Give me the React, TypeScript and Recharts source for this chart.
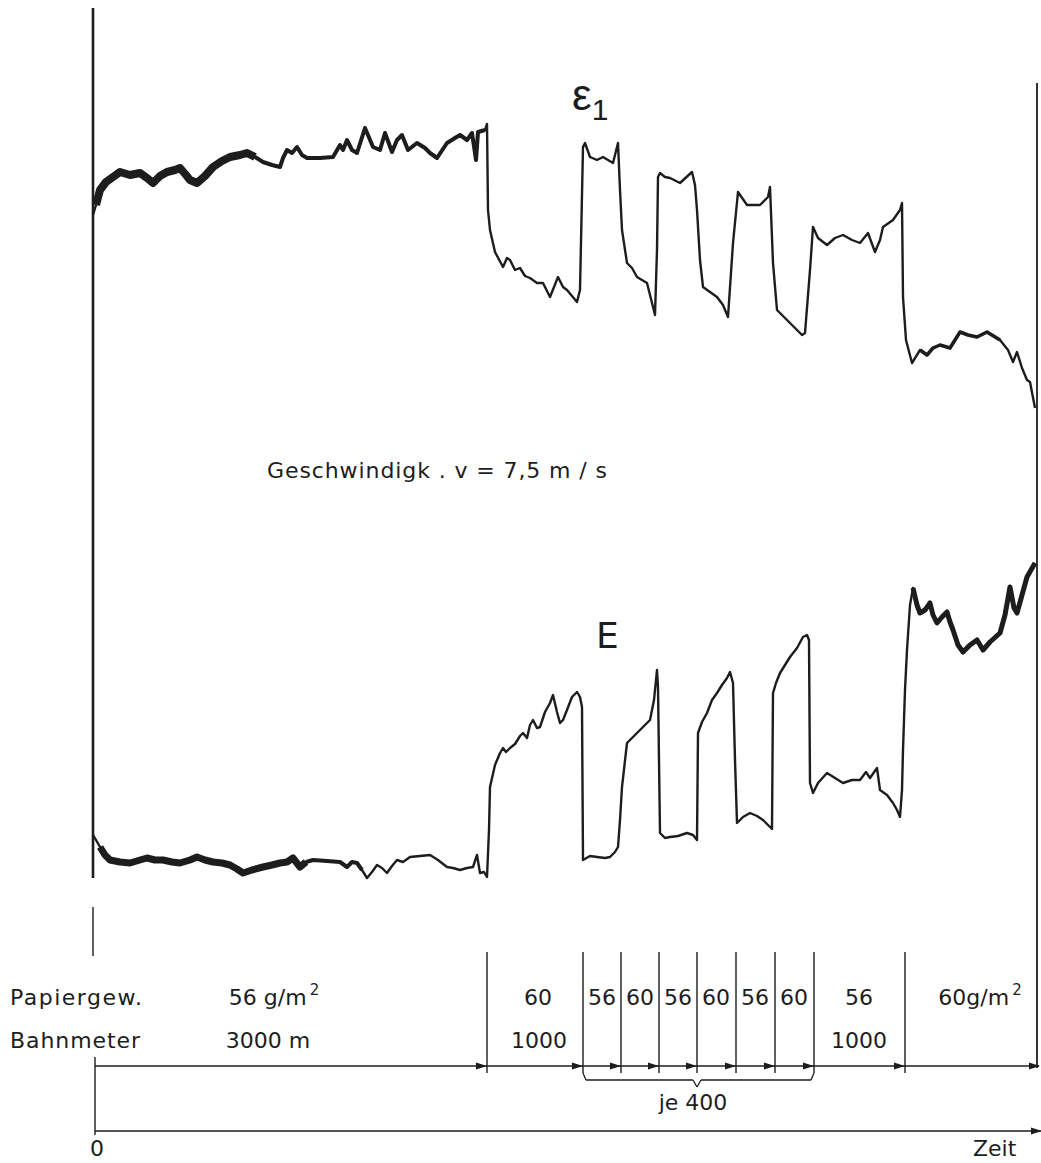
import { ComposedChart, Line, XAxis, YAxis, ReferenceLine, ReferenceDot } from "recharts";

// Schreiberstreifen: Zeit (cm Papiervorschub) gegen Ausschlag (cm)
const eps1Trace: [number, number][] = [
  [0, 66.5], [0.3, 67.5], [0.7, 69.0], [1.3, 69.8], [2.0, 70.3], [2.7, 70.8], [3.7, 70.5], [4.7, 70.7],
  [5.4, 70.2], [6.0, 69.7], [6.7, 70.4], [7.4, 70.8], [8.2, 71.0], [8.7, 71.2], [9.3, 70.5], [9.7, 70.0],
  [10.4, 69.7], [11.2, 70.4], [12.0, 71.3], [12.9, 71.9], [13.7, 72.3], [14.7, 72.5], [15.4, 72.7], [16.2, 72.3],
  [17.0, 71.8], [17.9, 71.5], [18.7, 71.3], [19.0, 72.2], [19.4, 73.0], [19.9, 72.7], [20.4, 73.3], [20.9, 72.5],
  [21.4, 72.2], [22.7, 72.2], [24.0, 72.3], [24.7, 73.5], [25.0, 73.0], [25.4, 74.0], [25.9, 73.0], [26.4, 72.7],
  [27.2, 75.2], [28.0, 73.3], [28.7, 73.0], [29.2, 74.7], [29.9, 72.8], [30.4, 74.0], [30.9, 74.5], [31.5, 73.0],
  [32.4, 73.7], [33.2, 73.2], [33.7, 72.7], [34.4, 72.2], [35.4, 73.7], [36.2, 74.2], [36.7, 74.5], [37.4, 74.0],
  [37.9, 74.7], [38.3, 72.0], [38.5, 74.8], [39.2, 75.0], [39.4, 75.6],
  [39.5, 67.0], [39.7, 65.0], [40.2, 62.8], [41.0, 61.3], [41.4, 62.2], [41.7, 62.0], [42.2, 61.0], [42.7, 61.2],
  [43.2, 60.4], [43.7, 60.2], [44.4, 59.7], [45.0, 59.7], [45.7, 58.3], [46.5, 60.3], [47.0, 59.3], [47.4, 59.0],
  [47.9, 58.4], [48.4, 57.8], [48.7, 59.0],
  [49.0, 73.3], [49.2, 73.7], [49.7, 72.3], [50.4, 72.0], [51.0, 72.3], [51.5, 72.0], [52.0, 71.7], [52.5, 73.7],
  [52.7, 69.0], [52.9, 65.0], [53.4, 61.7], [53.9, 61.2], [54.4, 60.3], [55.4, 59.7], [55.9, 57.7], [56.2, 56.5],
  [56.4, 63.0], [56.5, 70.3], [56.7, 70.7], [57.2, 70.3], [57.7, 70.2], [58.7, 69.7], [59.9, 70.8], [60.2, 69.5],
  [60.4, 67.0], [60.7, 62.0], [61.0, 59.3], [61.7, 58.8], [62.4, 58.3], [63.0, 57.5], [63.5, 56.3],
  [64.0, 63.7], [64.5, 68.8], [65.4, 67.5], [66.7, 67.5], [67.5, 68.3], [67.7, 69.3],
  [68.0, 61.7], [68.4, 57.0], [69.4, 56.0], [70.2, 55.2], [70.9, 54.5], [71.2, 54.7],
  [71.7, 61.0], [72.0, 65.3], [72.5, 64.2], [73.4, 63.5], [74.2, 64.2], [75.0, 64.5], [75.9, 64.0], [76.7, 63.7],
  [77.5, 64.7], [78.2, 62.8], [78.7, 64.0], [79.0, 65.3], [80.0, 66.0], [80.7, 67.0], [80.9, 67.7],
  [81.0, 58.3], [81.3, 54.0], [81.9, 51.7], [82.7, 53.0], [83.4, 52.5], [84.0, 53.2], [84.7, 53.5], [85.7, 53.2],
  [86.7, 54.8], [87.5, 54.5], [88.4, 54.3], [89.4, 54.8], [90.7, 54.0], [91.5, 53.0], [92.0, 51.8], [92.4, 52.8],
  [92.9, 51.2], [93.4, 50.0], [93.7, 49.8], [94.2, 47.2],
];

const eTrace: [number, number][] = [
  [0, 4.5], [0.3, 4.0], [0.7, 3.3], [1.2, 2.5], [1.7, 2.0], [2.7, 1.8], [3.7, 1.7], [4.7, 2.0],
  [5.4, 2.2], [6.2, 2.0], [7.0, 2.0], [7.9, 1.8], [8.7, 1.7], [9.7, 2.0], [10.4, 2.3], [11.2, 2.0],
  [12.0, 1.8], [12.9, 1.7], [13.7, 1.5], [14.4, 1.1], [15.0, 0.7], [15.9, 1.0], [17.0, 1.3], [17.9, 1.5],
  [18.7, 1.7], [19.4, 1.8], [20.0, 2.2], [20.7, 1.3], [21.3, 1.8], [22.0, 2.0], [23.4, 1.9], [24.7, 1.8],
  [25.4, 1.3], [25.9, 1.8], [26.4, 1.7], [26.9, 1.0], [27.4, 0.2], [27.9, 0.8], [28.4, 1.5], [28.9, 1.2],
  [29.4, 0.7], [29.9, 1.4], [30.4, 2.0], [31.0, 1.8], [31.7, 2.3], [32.7, 2.4], [33.7, 2.5], [34.5, 2.0],
  [35.4, 1.3], [36.0, 1.2], [36.7, 1.0], [37.4, 1.2], [38.0, 1.3], [38.4, 2.5], [38.7, 0.7], [39.1, 0.8],
  [39.4, 0.3],
  [39.6, 5.0], [39.7, 9.3], [40.2, 11.5], [40.7, 12.7], [41.0, 13.2], [41.3, 12.8], [41.7, 13.2], [42.2, 13.6],
  [42.7, 14.4], [43.0, 14.7], [43.4, 14.2], [43.7, 15.5], [44.0, 16.0], [44.4, 15.2], [44.7, 15.3], [45.2, 16.8],
  [45.7, 17.7], [46.0, 18.5], [46.4, 16.8], [46.7, 15.7], [47.0, 16.0], [47.4, 17.0], [47.9, 18.3], [48.4, 18.8],
  [48.7, 18.3], [48.9, 17.3],
  [49.0, 2.0], [49.7, 2.4], [50.4, 2.3], [51.2, 2.2], [51.7, 2.3], [52.2, 2.8], [52.5, 3.3],
  [52.7, 6.0], [52.9, 9.3], [53.4, 13.7], [53.9, 14.2], [54.4, 14.7], [55.0, 15.3], [55.7, 16.0], [56.1, 18.0],
  [56.4, 21.0], [56.5, 19.3],
  [56.6, 12.0], [56.7, 4.7], [57.2, 4.2], [57.7, 4.3], [58.5, 4.4], [59.4, 4.7], [60.0, 4.5], [60.4, 4.0],
  [60.5, 14.7], [60.9, 15.8], [61.4, 16.7], [61.9, 18.0], [62.4, 18.7], [62.9, 19.5], [63.4, 20.2], [63.7, 20.8],
  [64.0, 19.7],
  [64.2, 12.0], [64.4, 5.7], [65.0, 6.3], [65.7, 6.7], [66.4, 6.4], [67.0, 6.0], [67.5, 5.5], [67.9, 5.1],
  [68.0, 18.7], [68.3, 19.7], [68.7, 20.7], [69.2, 21.5], [69.7, 22.3], [70.4, 23.2], [71.0, 24.3], [71.4, 24.5],
  [71.6, 24.0],
  [71.7, 9.7], [72.0, 8.7], [72.5, 9.7], [73.4, 10.7], [74.2, 10.2], [75.0, 9.7], [75.9, 10.0], [76.7, 10.0],
  [77.3, 10.8], [77.7, 10.2], [78.4, 11.2], [78.7, 9.0], [79.4, 8.5], [80.0, 7.7], [80.4, 7.0], [80.7, 6.3],
  [80.9, 9.0], [81.0, 13.0], [81.2, 19.0], [81.4, 23.0], [81.7, 27.5], [82.0, 29.2], [82.4, 27.5], [82.7, 26.7],
  [83.2, 27.0], [83.7, 27.7], [84.0, 26.5], [84.4, 25.7], [84.9, 26.3], [85.4, 26.8], [85.7, 25.8], [86.0, 25.0],
  [86.5, 23.5], [87.0, 22.8], [87.7, 23.5], [88.4, 24.0], [89.0, 23.0], [89.7, 23.8], [90.7, 24.7], [91.2, 26.5],
  [91.7, 29.3], [92.1, 27.2], [92.4, 26.7], [92.9, 28.5], [93.4, 30.3], [93.8, 31.0], [94.2, 31.7],
];

// Abschnitte der Papierbahn (Grenzen auf der Zeitachse)
const segmentBounds = [39.4, 49.0, 52.8, 56.6, 60.4, 64.3, 68.2, 72.1, 81.2];
const timeEnd = 94.4;
const weightLabels = ["56 g/m", "60", "56", "60", "56", "60", "56", "60", "56", "60g/m"];
const weightHasUnit = [true, false, false, false, false, false, false, false, false, true];
const weightPos = [18.1, 44.5, 50.9, 54.7, 58.5, 62.3, 66.2, 70.1, 76.6, 88.7];
const meterLabels = ["3000 m", "1000", "1000"];
const meterPos = [17.5, 44.6, 76.6];

const W = 1041;
const H = 1163;
const INK = "#1d1d1d";
const FONT = "'DejaVu Sans', 'Liberation Sans', sans-serif";

const toRows = (trace: [number, number][]) => trace.map(([t, v]) => ({ t, v }));
const band = (trace: [number, number][], from: number, to: number) =>
  toRows(trace.filter(([t]) => t >= from && t <= to));

const eps1Data = toRows(eps1Trace);
const eData = toRows(eTrace);

// table rows below the plot (in the same units, below zero)
const ROW_WEIGHT = -12.5;
const ROW_METER = -16.8;
const ROW_ARROW = -18.6;
const ROW_TIME = -25.1;
const DIV_TOP = -7.2;
const DIV_BOTTOM = -19.3;

const seg = (x1: number, y1: number, x2: number, y2: number, w = 1.4, key?: string) => (
  <ReferenceLine
    key={key}
    segment={[{ x: x1, y: y1 }, { x: x2, y: y2 }]}
    stroke={INK}
    strokeWidth={w}
    ifOverflow="visible"
  />
);

const label = (
  key: string,
  x: number,
  y: number,
  text: string,
  opts: { size?: number; anchor?: string; len?: number; sup?: string } = {}
) => (
  <ReferenceDot
    key={key}
    x={x}
    y={y}
    r={0}
    ifOverflow="visible"
    shape={(p: any) => (
      <text
        x={p.cx}
        y={p.cy}
        fill={INK}
        fontFamily={FONT}
        fontSize={opts.size ?? 21}
        textAnchor={opts.anchor ?? "middle"}
        textLength={opts.len}
        lengthAdjust={opts.len ? "spacing" : undefined}
      >
        {text}
        {opts.sup ? (
          <tspan fontSize={15} dy={-10} dx={3}>
            {opts.sup}
          </tspan>
        ) : null}
      </text>
    )}
  />
);

const arrow = (key: string, x: number, y: number) => (
  <ReferenceDot
    key={key}
    x={x}
    y={y}
    r={0}
    ifOverflow="visible"
    shape={(p: any) => (
      <path
        d={`M${p.cx - 11},${p.cy - 3.5} L${p.cx},${p.cy} L${p.cx - 11},${p.cy + 3.5} Z`}
        fill={INK}
      />
    )}
  />
);

const trace = (data: { t: number; v: number }[], width: number, name?: string) => (
  <Line data={data} dataKey="v" name={name} dot={false} stroke={INK} strokeWidth={width}
    strokeLinejoin="round" isAnimationActive={false} />
);

export default function App() {
  return (
    <div style={{ position: "absolute", left: 0, top: 0, width: W, height: H, background: "#fff" }}>
      <ComposedChart width={W} height={H} margin={{ top: 8, right: 4, bottom: 283, left: 93 }}>
        <XAxis type="number" dataKey="t" domain={[0, timeEnd]} hide />
        <YAxis type="number" domain={[0, 87.2]} hide />

        {/* frame: left axis, right edge */}
        {seg(0, 87.2, 0, 0.2, 2.6, "axisL")}
        {seg(0, -2.7, 0, -7.6, 1.4, "axisL2")}
        {seg(timeEnd, 79.7, timeEnd, -18.8, 1.8, "axisR")}

        {/* noisy parts of the record are drawn wider */}
        {trace(band(eps1Trace, 0.3, 16.2), 8)}
        {trace(band(eps1Trace, 16.2, 39.2), 4)}
        {trace(band(eTrace, 0.5, 21.3), 7)}
        {trace(band(eTrace, 21.3, 27), 4)}
        {trace(band(eTrace, 82, 94.2), 5)}
        {trace(band(eps1Trace, 82, 90.7), 3.5)}
        {trace(eps1Data, 2.4, "ε1")}
        {trace(eData, 2.4, "E")}

        {/* curve names and note */}
        <ReferenceDot
          x={47.9}
          y={77.0}
          r={0}
          ifOverflow="visible"
          shape={(p: any) => (
            <text x={p.cx} y={p.cy} fill={INK} fontFamily="'Liberation Sans', sans-serif" fontSize={44}>
              ε
              <tspan fontSize={30} dy={10}>1</tspan>
            </text>
          )}
        />
        {label("E", 50.3, 23.2, "E", { size: 36, anchor: "start" })}
        {label("v", 17.4, 40.2, "Geschwindigk . v = 7,5 m / s", { size: 22, anchor: "start", len: 340 })}

        {/* Papiergewicht / Bahnmeter table */}
        {label("pg", -8.3, ROW_WEIGHT, "Papiergew.", { size: 22, anchor: "start", len: 132 })}
        {label("bm", -8.3, ROW_METER, "Bahnmeter", { size: 22, anchor: "start", len: 130 })}
        {weightLabels.map((w, i) =>
          label("w" + i, weightPos[i], ROW_WEIGHT, w, { size: 22, sup: weightHasUnit[i] ? "2" : undefined })
        )}
        {meterLabels.map((m, i) => label("m" + i, meterPos[i], ROW_METER, m, { size: 22 }))}

        {segmentBounds.map((b, i) => seg(b, DIV_TOP, b, DIV_BOTTOM, 1.4, "d" + i))}
        {seg(0.2, -17.7, 0.2, -25.5, 1.4, "bracketL")}
        {seg(0.2, ROW_ARROW, 94.6, ROW_ARROW, 1.4, "arrowRow")}
        {segmentBounds.map((b, i) => arrow("a" + i, b, ROW_ARROW))}
        {arrow("aEnd", 94.7, ROW_ARROW)}

        {/* brace "je 400" */}
        {seg(49.0, -19.3, 49.3, -20.0, 1.3, "br1")}
        {seg(49.3, -20.0, 60.0, -20.0, 1.3, "br2")}
        {seg(60.0, -20.0, 60.4, -20.7, 1.3, "br3")}
        {seg(60.4, -20.7, 60.8, -20.0, 1.3, "br4")}
        {seg(60.8, -20.0, 71.8, -20.0, 1.3, "br5")}
        {seg(71.8, -20.0, 72.1, -19.3, 1.3, "br6")}
        {label("je", 60.0, -23.0, "je 400", { size: 22 })}

        {/* time axis */}
        {seg(0.2, ROW_TIME, 94.8, ROW_TIME, 1.4, "timeAxis")}
        {arrow("tEnd", 94.9, ROW_TIME)}
        {label("zero", 0.4, -27.6, "0", { size: 22 })}
        {label("zeit", 88.0, -27.6, "Zeit", { size: 22, anchor: "start" })}
      </ComposedChart>
    </div>
  );
}
